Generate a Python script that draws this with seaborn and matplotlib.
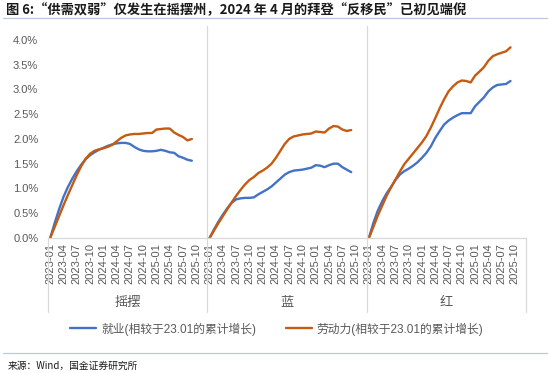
import numpy as np
import pandas as pd
import matplotlib
matplotlib.use('Agg')
import matplotlib.pyplot as plt
import matplotlib.transforms as mtransforms
from matplotlib.lines import Line2D
import seaborn as sns

# categories: 36 months per group, data runs 2023-01 .. 2025-09
months = pd.period_range('2023-01', '2025-12', freq='M').strftime('%Y-%m').tolist()
groups = ['摇摆', '蓝', '红']
series = ['就业(相较于23.01的累计增长)', '劳动力(相较于23.01的累计增长)']

# cumulative growth vs 2023-01, in %
swing_emp = [0, 0.30, 0.58, 0.83, 1.03, 1.20, 1.35, 1.48, 1.59, 1.67, 1.73, 1.78, 1.82,
             1.86, 1.89, 1.91, 1.92, 1.92, 1.90, 1.84, 1.79, 1.76, 1.75, 1.75, 1.76, 1.78,
             1.76, 1.73, 1.72, 1.65, 1.62, 1.58, 1.56]
swing_lab = [0, 0.22, 0.44, 0.66, 0.87, 1.07, 1.27, 1.45, 1.60, 1.70, 1.76, 1.79, 1.81,
             1.84, 1.88, 1.95, 2.02, 2.07, 2.09, 2.10, 2.10, 2.11, 2.12, 2.12, 2.19, 2.20,
             2.21, 2.21, 2.13, 2.08, 2.04, 1.97, 2.00]
blue_emp = [0, 0.17, 0.33, 0.47, 0.60, 0.71, 0.78, 0.80, 0.81, 0.81, 0.82, 0.88, 0.93,
            0.98, 1.04, 1.12, 1.20, 1.28, 1.33, 1.36, 1.37, 1.38, 1.40, 1.42, 1.47, 1.46,
            1.43, 1.47, 1.50, 1.50, 1.43, 1.38, 1.33]
blue_lab = [0, 0.15, 0.30, 0.44, 0.58, 0.72, 0.85, 0.97, 1.08, 1.17, 1.23, 1.31, 1.36,
            1.42, 1.50, 1.62, 1.76, 1.90, 2.00, 2.05, 2.07, 2.09, 2.10, 2.11, 2.15, 2.14,
            2.13, 2.21, 2.26, 2.25, 2.19, 2.16, 2.18]
red_emp = [0, 0.30, 0.55, 0.74, 0.90, 1.03, 1.17, 1.28, 1.35, 1.40, 1.46, 1.53, 1.62,
           1.72, 1.85, 2.02, 2.16, 2.29, 2.37, 2.43, 2.48, 2.52, 2.52, 2.52, 2.66, 2.75,
           2.84, 2.96, 3.04, 3.09, 3.10, 3.11, 3.17]
red_lab = [0, 0.22, 0.45, 0.65, 0.85, 1.02, 1.18, 1.34, 1.49, 1.60, 1.71, 1.82, 1.93,
           2.06, 2.23, 2.42, 2.62, 2.80, 2.96, 3.06, 3.14, 3.18, 3.17, 3.14, 3.28, 3.36,
           3.45, 3.58, 3.67, 3.71, 3.74, 3.77, 3.85]

data = {'摇摆': (swing_emp, swing_lab), '蓝': (blue_emp, blue_lab), '红': (red_emp, red_lab)}
n = len(months)
rows = []
for g, name in enumerate(groups):
    for s, vals in zip(series, data[name]):
        for i, v in enumerate(vals):
            rows.append({'pos': g * n + i, 'value': v, 'series': s, 'grp': name})
df = pd.DataFrame(rows)

sns.set_theme(style='white')
plt.rcParams['font.family'] = ['Liberation Sans', 'Noto Sans CJK SC', 'DejaVu Sans']

colors = ['#4472C4', '#C55A11']
grey = '#595959'
line_grey = '#d9d9d9'

fig = plt.figure(figsize=(5.5, 3.73), dpi=100)
ax = fig.add_axes([48 / 550, 1 - 238 / 373, 478 / 550, 212 / 373])

sns.lineplot(data=df, x='pos', y='value', hue='series', units='grp', estimator=None,
             palette=colors, linewidth=1.7, legend=False, ax=ax)

ax.set_xlim(-0.5, 3 * n - 0.5)
ax.set_ylim(0, 4.28)
ax.set_yticks(np.arange(0, 4.01, 0.5))
ax.set_yticklabels([f'{v:.1f}%' for v in np.arange(0, 4.01, 0.5)])
xt = [g * n + i for g in range(3) for i in range(0, n, 3)]
ax.set_xticks(xt)
ax.set_xticklabels([months[p % n] for p in xt], rotation=90)
ax.tick_params(axis='x', length=0, pad=3.5, labelsize=8, labelcolor=grey)
ax.tick_params(axis='y', length=0, pad=7, labelsize=8, labelcolor=grey)
ax.set_xlabel('')
ax.set_ylabel('')
for side in ['top', 'right', 'left']:
    ax.spines[side].set_visible(False)
ax.spines['bottom'].set_color(line_grey)
ax.spines['bottom'].set_linewidth(0.9)

# group separators of the two-level category axis
trans = mtransforms.blended_transform_factory(ax.transData, ax.transAxes)
for x in [-0.5, 3 * n - 0.5]:
    ax.plot([x, x], [-0.35, 0], transform=trans, color=line_grey, lw=0.9, clip_on=False)
for x in [n - 0.5, 2 * n - 0.5]:
    ax.plot([x, x], [-0.35, 1], transform=trans, color=line_grey, lw=0.9, clip_on=False)
for g, name in enumerate(groups):
    ax.text(g * n + (n - 1) / 2, -0.307, name, transform=trans, ha='center', va='center',
            fontsize=9.5, color=grey)

handles = [Line2D([], [], color=c, lw=1.7) for c in colors]
fig.legend(handles, series, loc='center', bbox_to_anchor=(0.503, 1 - 329 / 373), ncol=2,
           frameon=False, fontsize=8.5, handlelength=2.2, columnspacing=2.5,
           labelcolor=grey, handletextpad=0.4)

# title, rules and source
fig.text(6 / 550, 1 - 10 / 373, '图 6:“供需双弱”仅发生在摇摆州，2024 年 4 月的拜登“反移民”已初见端倪',
         fontsize=9.5, fontweight='bold', color='#1a1a1a', va='center', ha='left',
         family=['Noto Sans CJK SC', 'DejaVu Sans'])
for yy in [18, 353]:
    fig.add_artist(Line2D([3 / 550, 547 / 550], [1 - yy / 373, 1 - yy / 373],
                          color='#b8c9dc', lw=0.9))
fig.text(8 / 550, 1 - 366 / 373, '来源：Wind，国金证券研究所', fontsize=7, color='#1a1a1a',
         va='center', ha='left', family=['Noto Sans CJK SC', 'DejaVu Sans'])

fig.savefig('out.png', dpi=100)
